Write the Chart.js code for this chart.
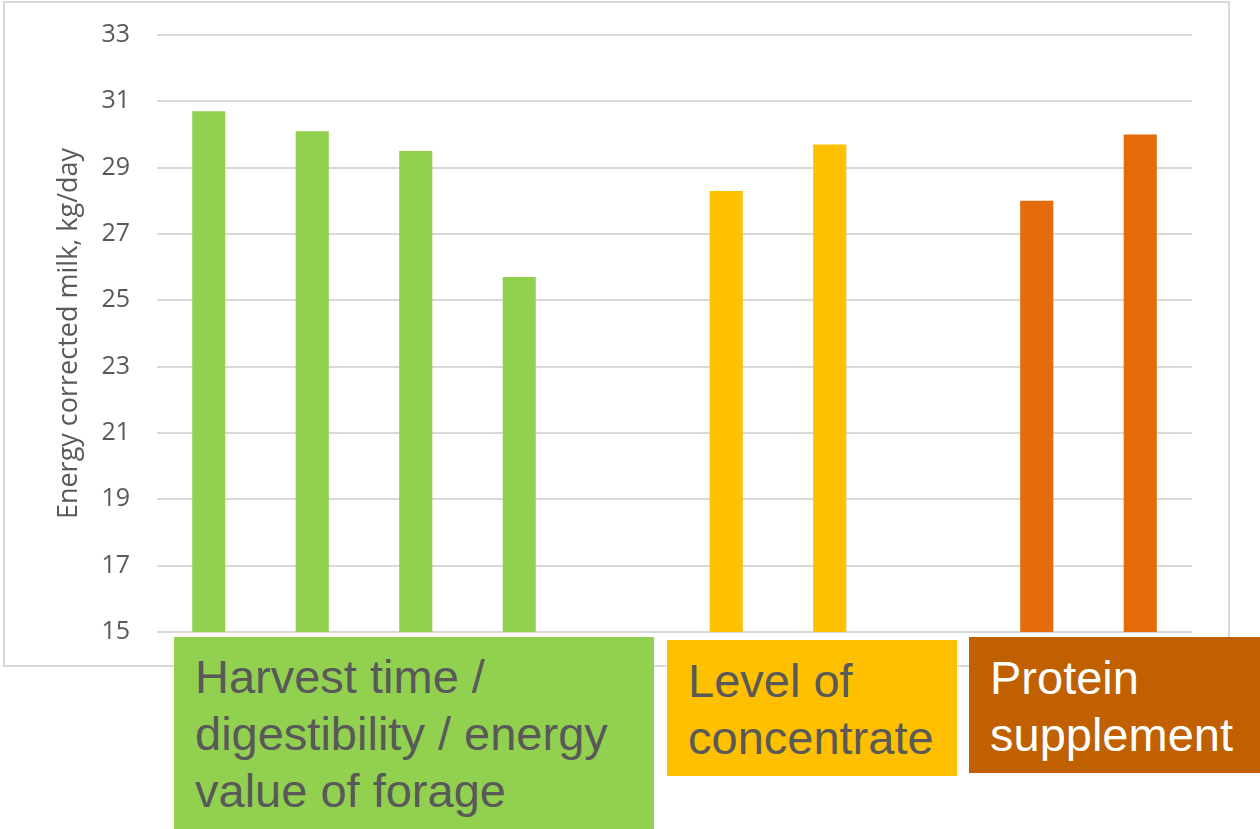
<!DOCTYPE html>
<html lang="en">
<head>
    <meta charset="UTF-8">
    <title>Energy corrected milk</title>
    <style>
        body { margin: 0; background: #fff; width: 1260px; height: 829px; overflow: hidden; position: relative; font-family: "Liberation Sans", Arial, sans-serif; }
        .chart-box { position: absolute; left: 3px; top: 1px; width: 1227px; height: 666px; border: 2px solid #d9d9d9; box-sizing: border-box; }
        .chart-box canvas { display: block; }
        .tag { position: absolute; box-sizing: border-box; font-size: 47px; line-height: 57px; color: #595959; z-index: 2; }
        .tag.forage { left: 174px; top: 637px; width: 480px; height: 192px; background: #92D050; padding: 11px 0 0 21px; }
        .tag.conc { left: 667px; top: 640px; width: 290px; height: 136px; background: #FFC000; padding: 12px 0 0 21px; }
        .tag.protein { left: 969px; top: 637px; width: 291px; height: 136px; background: #C06000; color: #fff; padding: 12px 0 0 21px; }
    </style>
</head>
<body>
    <div class="chart-box">
        <canvas id="milkChart" width="1223" height="662"></canvas>
    </div>

    <div class="tag forage">Harvest time /<br>digestibility / energy<br>value of forage</div>
    <div class="tag conc">Level of<br>concentrate</div>
    <div class="tag protein">Protein<br>supplement</div>

    <script src="https://cdn.jsdelivr.net/npm/chart.js"></script>
    <script>
        // treatments, with empty slots between the three groups
        const categories = ['F1', 'F2', 'F3', 'F4', 'gap1', 'C1', 'C2', 'gap2', 'P1', 'P2'];
        const ecmValues = [30.7, 30.1, 29.5, 25.7, null, 28.3, 29.7, null, 28.0, 30.0];
        const barColors = ['#92D050', '#92D050', '#92D050', '#92D050', null, '#FFC000', '#FFC000', null, '#E46C0A', '#E46C0A'];
        const yTicks = [15, 17, 19, 21, 23, 25, 27, 29, 31, 33];
        const yTitle = 'Energy corrected milk, kg/day';

        new Chart(document.getElementById('milkChart').getContext('2d'), {
            type: 'bar',
            data: {
                labels: categories,
                datasets: [{
                    data: ecmValues,
                    backgroundColor: barColors,
                    barPercentage: 0.32,
                    categoryPercentage: 1
                }]
            },
            options: {
                responsive: false,
                animation: false,
                layout: { padding: { top: 32, right: 36, bottom: 33, left: 0 } },
                plugins: { legend: { display: false }, tooltip: { enabled: false } },
                scales: {
                    x: { display: false },
                    y: {
                        min: yTicks[0],
                        max: yTicks[yTicks.length - 1],
                        afterBuildTicks: scale => { scale.ticks = yTicks.map(v => ({ value: v })); },
                        // fixed axis width, and no extra room for the end labels
                        afterFit: scale => {
                            scale.width = 152;
                            scale.paddingTop = 0;
                            scale.paddingBottom = 0;
                        },
                        border: { display: false },
                        grid: { color: '#d9d9d9', lineWidth: 2, drawTicks: false },
                        ticks: { color: '#595959', padding: 27, font: { family: 'Open Sans', size: 25 } },
                        title: {
                            display: true,
                            text: yTitle,
                            color: '#595959',
                            padding: { top: 48, bottom: 0 },
                            font: { family: 'Open Sans', size: 27 }
                        }
                    }
                }
            }
        });
    </script>
</body>
</html>
